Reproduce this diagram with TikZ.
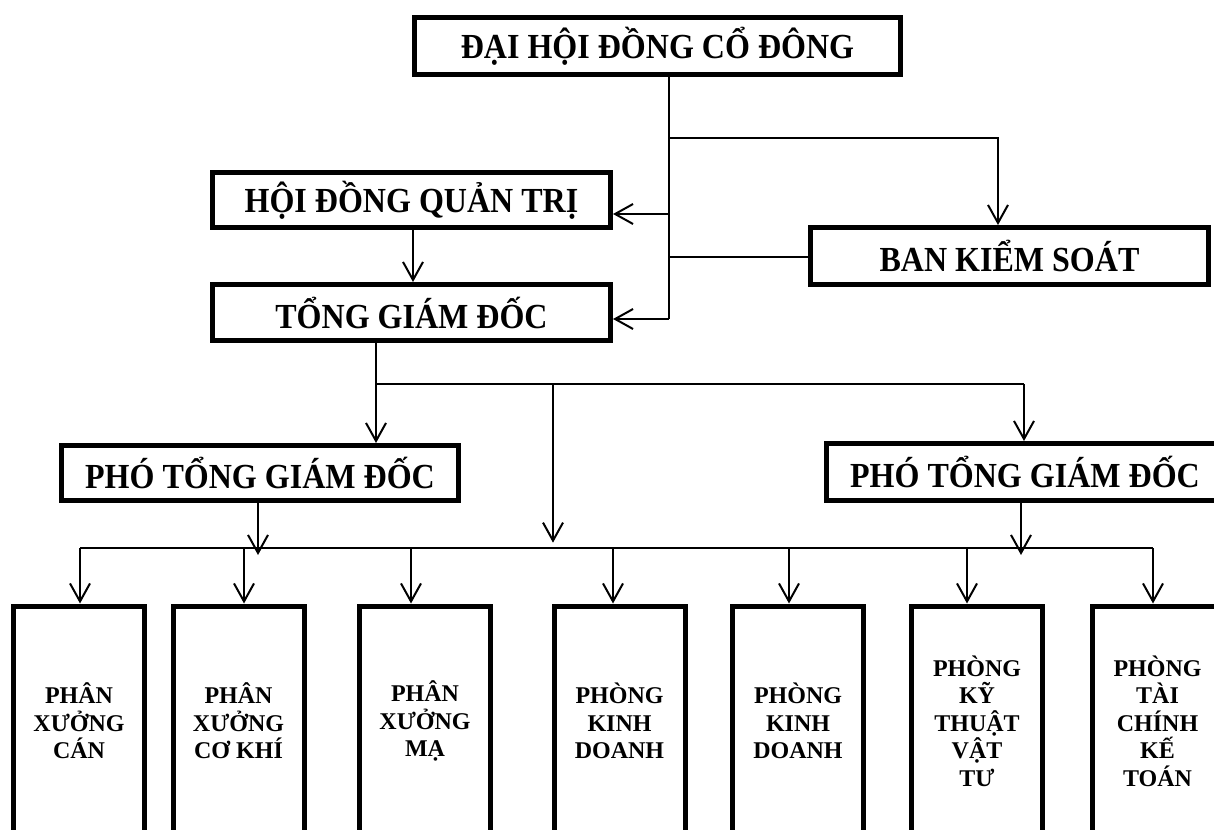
\documentclass[tikz,border=0pt]{standalone}
\usepackage{fontspec}
\setmainfont{Liberation Serif}
\newfontfamily\tallfont[FakeStretch=0.91]{Liberation Serif}
\usetikzlibrary{arrows.meta}

\begin{document}
\begin{tikzpicture}[x=0.75pt,y=-0.75pt,line width=1.5pt,
    box/.style={rectangle, draw, line width=3.75pt, inner sep=0pt, align=center,
      font=\tallfont\fontsize{26.4}{30}\selectfont\bfseries, minimum width=298.5pt, minimum height=42pt},
    unit/.style={rectangle, draw, line width=3.75pt, inner sep=0pt, align=center,
      font=\fontsize{18}{20.6}\selectfont\bfseries, minimum width=98.25pt, minimum height=172.5pt},
    arr/.style={-{Straight Barb[length=13.5pt,width=15pt]}}]
      \useasboundingbox (0,0) rectangle (1214,830);
      \clip (0,0) rectangle (1214,830);

      % Nodes
      \node (dhcd) at (657.5,46) [box, minimum width=364.5pt, minimum height=42.75pt] {ĐẠI HỘI ĐỒNG CỔ ĐÔNG};
      \node (hdqt) at (411.5,200) [box, minimum height=41.25pt] {HỘI ĐỒNG QUẢN TRỊ};
      \node (tgd) at (411.5,312.5) [box] {TỔNG GIÁM ĐỐC};
      \node (bks) at (1009.5,256) [box, minimum height=42.75pt] {BAN KIỂM SOÁT};
      \node (ptgdA) at (260,473) [box, minimum width=297.75pt, minimum height=41.25pt] {PHÓ TỔNG GIÁM ĐỐC};
      \node (ptgdB) at (1025,472) [box, minimum width=297.75pt, minimum height=42.75pt] {PHÓ TỔNG GIÁM ĐỐC};

      \foreach \cx/\name/\txt in {79/pxA/{PHÂN\\XƯỞNG\\CÁN}, 238.5/pxB/{PHÂN\\XƯỞNG\\CƠ KHÍ},
          425/pxC/{PHÂN\\XƯỞNG\\MẠ}, 619.5/pkA/{PHÒNG\\KINH\\DOANH}, 798/pkB/{PHÒNG\\KINH\\DOANH},
          977/pktvt/{PHÒNG\\KỸ\\THUẬT\\VẬT\\TƯ}, 1157.5/ptckt/{PHÒNG\\TÀI\\CHÍNH\\KẾ\\TOÁN}}
        \node (\name) at (\cx,721) [unit] {\txt};

      % Junctions
      \coordinate (jA) at (669,138);
      \coordinate (jB) at (669,214);
      \coordinate (jC) at (669,257);
      \coordinate (jD) at (669,319);
      \coordinate (kA) at (998,138);
      \coordinate (tA) at (376,384);
      \coordinate (tB) at (1024,384);
      \coordinate (tM) at (553,384);
      \coordinate (busL) at (80,548);
      \coordinate (busR) at (1153,548);
      \coordinate (pA) at (258,555);
      \coordinate (pB) at (1021,555);

      % Edges
      \draw (dhcd.south -| jA) -- (jD);
      \draw[arr] (jA) -- (kA) -- (kA |- bks.north);
      \draw[arr] (jB) -- (jB -| hdqt.east);
      \draw (jC) -- (jC -| bks.west);
      \draw[arr] (jD) -- (jD -| tgd.east);
      \draw[arr] (hdqt.south -| 413,0) -- (tgd.north -| 413,0);

      \draw (tgd.south -| tA) -- (tA) -- (tB);
      \draw[arr] (tA) -- (tA |- ptgdA.north);
      \draw[arr] (tB) -- (tB |- ptgdB.north);
      \draw[arr, shorten >=4pt] (tM) -- (tM |- busL);

      \draw[arr] (ptgdA.south -| pA) -- (pA);
      \draw[arr] (ptgdB.south -| pB) -- (pB);
      \draw (busL) -- (busR);
      \foreach \dx/\name in {80/pxA,244/pxB,411/pxC,613/pkA,789/pkB,967/pktvt,1153/ptckt}
        \draw[arr] (\dx,0 |- busL) -- (\dx,0 |- \name.north);
\end{tikzpicture}
\end{document}
